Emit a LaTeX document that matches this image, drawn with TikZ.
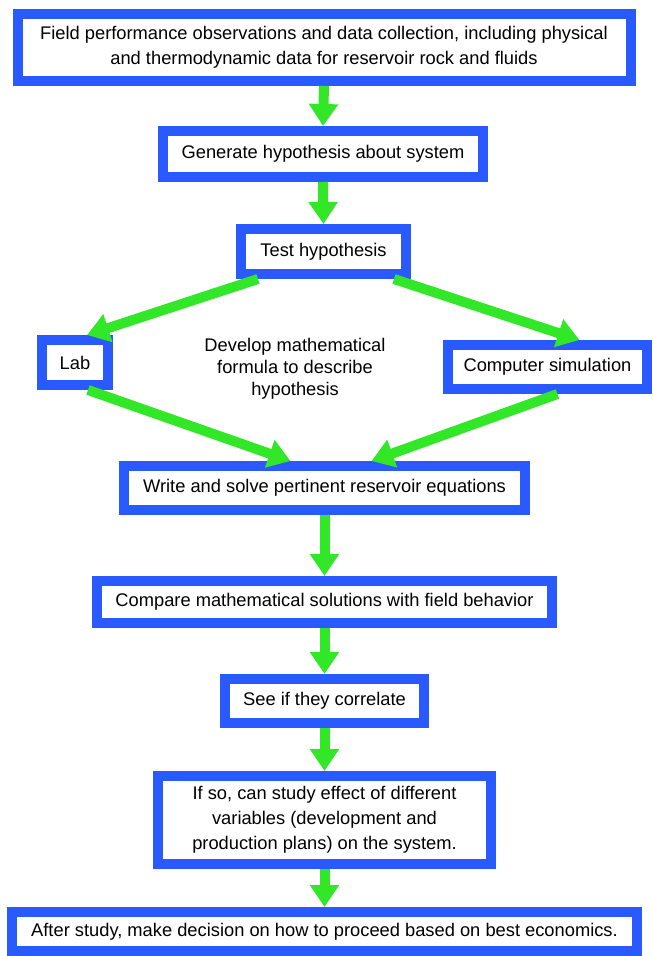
\documentclass[tikz,border=0pt]{standalone}
\usepackage{fontspec}
\setmainfont{Liberation Sans}
\usetikzlibrary{arrows.meta}
\definecolor{boxblue}{RGB}{40,90,255}
\definecolor{flowgreen}{RGB}{50,230,40}

\begin{document}
\begin{tikzpicture}[x=1pt,y=-1pt,
    box/.style={draw=boxblue,line width=10pt,fill=white,inner sep=0pt,align=center,
      font=\fontsize{18.3}{25}\selectfont},
    note/.style={align=center,inner sep=0pt,font=\fontsize{18.3}{22}\selectfont},
    flow/.style={draw=flowgreen,line width=10pt,-{Triangle[length=22pt,width=28pt]}}]
  \useasboundingbox (0,0) rectangle (653,956);
  \draw
    (324,47.5) node[box,minimum width=613pt,minimum height=67pt] (field)
      {Field performance observations and data collection, including physical\\
       and thermodynamic data for reservoir rock and fluids}
    (323,154) node[box,minimum width=320pt,minimum height=46pt] (hyp)
      {Generate hypothesis about system}
    (323.5,251.5) node[box,minimum width=165pt,minimum height=45pt] (test)
      {Test hypothesis}
    (75,362.5) node[box,minimum width=66pt,minimum height=45pt] (lab) {Lab}
    (547.5,367) node[box,minimum width=199pt,minimum height=44pt] (sim)
      {Computer simulation}
    (295,369) node[note] (dev)
      {Develop mathematical\\ formula to describe\\ hypothesis}
    (324.5,488) node[box,minimum width=401pt,minimum height=44pt] (eqn)
      {Write and solve pertinent reservoir equations}
    (324.5,602) node[box,minimum width=455pt,minimum height=42pt] (cmp)
      {Compare mathematical solutions with field behavior}
    (324.5,701) node[box,minimum width=199pt,minimum height=44pt] (corr)
      {See if they correlate}
    (324.5,820) node[box,minimum width=333pt,minimum height=88pt] (vary)
      {If so, can study effect of different\\ variables (development and\\
       production plans) on the system.}
    (324.5,931.5) node[box,minimum width=625pt,minimum height=39pt] (decide)
      {After study, make decision on how to proceed based on best economics.};
  \begin{scope}[flow]
    \draw (field.south) to (hyp.north);
    \draw (hyp.south) to (test.north);
    \draw ([xshift=22pt]test.south west) to ([xshift=12pt]lab.north);
    \draw ([xshift=-17pt]test.south east) to ([xshift=32pt]sim.north);
    \draw ([xshift=13pt]lab.south) to ([xshift=-34pt]eqn.north);
    \draw ([xshift=10pt]sim.south) to ([xshift=47pt]eqn.north);
    \draw (eqn.south) to (cmp.north);
    \draw (cmp.south) to (corr.north);
    \draw (corr.south) to (vary.north);
    \draw (vary.south) to (decide.north);
  \end{scope}
\end{tikzpicture}
\end{document}
